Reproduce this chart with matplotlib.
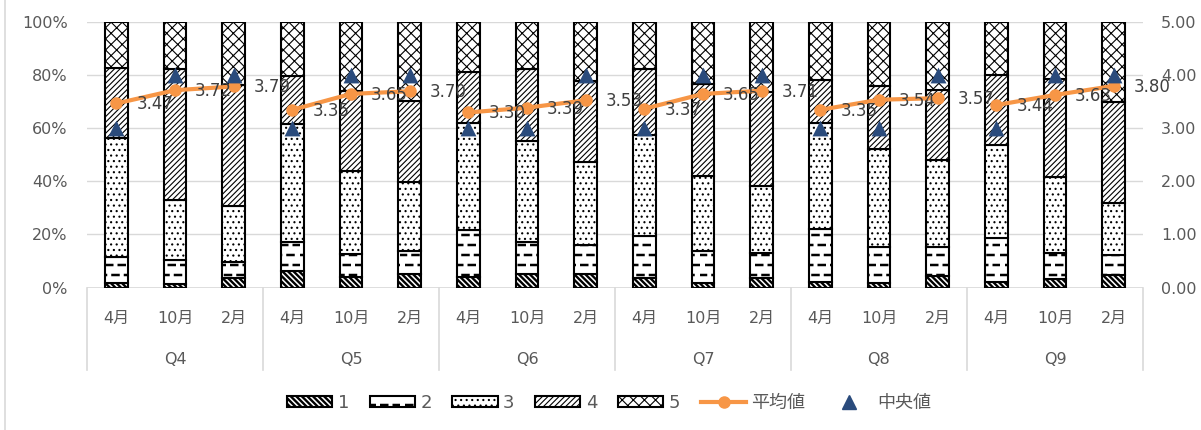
import numpy as np
import matplotlib
matplotlib.use("Agg")
import matplotlib.pyplot as plt
import matplotlib.hatch as mhatch
from matplotlib.path import Path
from matplotlib.lines import Line2D
import matplotlib.transforms as mtrans

plt.rcParams['font.family'] = ['DejaVu Sans', 'Noto Sans CJK JP']

# ---------------- data ----------------
groups = ["Q4", "Q5", "Q6", "Q7", "Q8", "Q9"]
months = ["4月", "10月", "2月"]
series_names = ["1", "2", "3", "4", "5"]
share1 = [1.8, 1.3, 3.7, 6.2, 4.1, 5.0, 3.8, 5.0, 5.0, 3.5, 1.6, 3.5, 2.0, 1.6, 4.5, 2.2, 3.1, 4.6]
share2 = [9.6, 9.1, 6.0, 11.1, 8.4, 8.9, 17.9, 12.3, 10.9, 16.0, 12.2, 9.6, 20.0, 13.8, 10.9, 16.6, 10.0, 7.7]
share3 = [44.9, 22.6, 21.1, 44.3, 31.5, 26.0, 40.3, 38.1, 31.5, 38.0, 28.4, 25.2, 40.0, 36.7, 32.7, 35.1, 28.7, 19.7]
share4 = [26.6, 49.5, 45.7, 18.0, 30.2, 30.6, 19.2, 26.9, 30.3, 24.8, 34.6, 35.4, 16.3, 23.9, 26.2, 26.3, 36.8, 38.1]
share5 = [17.1, 17.5, 23.5, 20.4, 25.8, 29.5, 18.8, 17.7, 22.3, 17.7, 23.2, 26.3, 21.7, 24.0, 25.7, 19.8, 21.4, 29.9]
mean_vals = [3.47, 3.72, 3.79, 3.35, 3.65, 3.70, 3.30, 3.39, 3.53, 3.37, 3.65, 3.71,
             3.35, 3.54, 3.57, 3.44, 3.63, 3.80]
median_vals = [3, 4, 4, 3, 4, 4, 3, 3, 4, 3, 4, 4, 3, 3, 4, 3, 4, 4]
pct_ticks = [0, 20, 40, 60, 80, 100]
right_ticks = [0, 1, 2, 3, 4, 5]

# ------------- custom dash hatch for series 2 -------------
class DashHatch(mhatch.HatchPatternBase):
    def __init__(self, hatch, density):
        n = hatch.count('-')
        self.rows = 10 if n else 0
        self.cols = 8
        self.num_vertices = self.rows * self.cols * 2

    def set_vertices_and_codes(self, vertices, codes):
        k = 0
        for r in range(self.rows):
            y = (r + 0.5) / self.rows
            off = 0.5 / self.cols if r % 2 else 0.0
            for c in range(self.cols):
                x0 = c / self.cols + off
                vertices[k] = (x0, y)
                vertices[k + 1] = (x0 + 0.06, y)
                codes[k] = Path.MOVETO
                codes[k + 1] = Path.LINETO
                k += 2

mhatch._hatch_types[0] = DashHatch

# ---------------- figure ----------------
W, H = 1201, 430
fig = plt.figure(figsize=(W / 100, H / 100), dpi=100)
x_left, x_right = 87, 1143
y_top, y_bot = 22.3, 287.5
ax = fig.add_axes([x_left / W, 1 - y_bot / H, (x_right - x_left) / W, (y_bot - y_top) / H])
ax2 = ax.twinx()

TEXT = '#595959'
GRID = '#D9D9D9'
n = len(share1)
x = np.arange(n)
shares = [share1, share2, share3, share4, share5]
hatches = ['\\' * 6, '-', '...', '//////', 'xxx']
hlw = [1.7, 1.8, 0.8, 0.8, 0.8]
bottom = np.zeros(n)
bar_handles = []
for name, s, h, lw in zip(series_names, shares, hatches, hlw):
    with plt.rc_context({'hatch.linewidth': lw}):
        bars = ax.bar(x, s, bottom=bottom, width=0.39, color='white', edgecolor='black',
                      linewidth=1.5, hatch=h, label=name, zorder=2)
        for b in bars:
            if hasattr(b, 'set_hatch_linewidth'):
                b.set_hatch_linewidth(lw)
    bar_handles.append(bars)
    bottom = bottom + np.array(s)

ax.set_xlim(-0.5, n - 0.5)
ax.set_ylim(0, 100)
ax.set_yticks(pct_ticks, labels=[f"{t}%" for t in pct_ticks])
ax.grid(axis='y', color=GRID, linewidth=1.0, zorder=0)
ax.set_axisbelow(True)
for sp in ax.spines.values():
    sp.set_visible(False)
for sp in ax2.spines.values():
    sp.set_visible(False)
ax.tick_params(axis='y', length=0, pad=14, labelsize=11.5, labelcolor=TEXT)
ax.set_xticks(x, labels=months * len(groups))
ax.tick_params(axis='x', length=0, pad=17, labelsize=11.5, labelcolor=TEXT)

# bottom axis line
ax.axhline(0, color=GRID, linewidth=1.2, zorder=1)

# group dividers and group labels
trans = mtrans.blended_transform_factory(ax.transData, ax.transAxes)
for gi in range(len(groups) + 1):
    xb = gi * 3 - 0.5
    ax.plot([xb, xb], [0, -0.31], transform=trans, color=GRID, linewidth=1.2, clip_on=False)
for gi, g in enumerate(groups):
    ax.text(gi * 3 + 1, -0.27, g, transform=trans, ha='center', va='center',
            fontsize=11.5, color=TEXT)

# secondary axis: mean line (per group) and median triangles
ax2.set_ylim(0, 5)
ax2.set_yticks(right_ticks, labels=[f"{t:.2f}" for t in right_ticks])
ax2.tick_params(axis='y', length=0, pad=13, labelsize=11.5, labelcolor=TEXT)
ORANGE = '#F79646'
BLUE = '#2A4B7C'
line_handle = None
for gi in range(len(groups)):
    idx = slice(gi * 3, gi * 3 + 3)
    ln, = ax2.plot(x[idx], mean_vals[idx], color=ORANGE, linewidth=3, marker='o',
                   markersize=8, zorder=4, label='平均値')
    line_handle = ln
med = ax2.scatter(x, median_vals, marker='^', s=130, color=BLUE, zorder=5, label='中央値',
                  linewidths=0)
for xi, v in zip(x, mean_vals):
    ax2.annotate(f"{v:.2f}", (xi, v), xytext=(20, -1), textcoords='offset pixels',
                 ha='left', va='center', fontsize=12, color='#404040', zorder=6)

# legend
handles = bar_handles + [line_handle,
                         Line2D([], [], linestyle='none', marker='^', markersize=10, color=BLUE)]
labels = series_names + ['平均値', '中央値']
leg = fig.legend(handles, labels, loc='center', bbox_to_anchor=(0.507, 1 - 403 / H), ncol=7,
                 frameon=False, fontsize=13, labelcolor=TEXT, handlelength=2.5, handleheight=0.6,
                 handletextpad=0.3, columnspacing=1.15)
for hnd, lw in zip(leg.legend_handles[:5], hlw):
    if hasattr(hnd, 'set_hatch_linewidth'):
        hnd.set_hatch_linewidth(lw)
    hnd.set_linewidth(1.5)

# chart border (left edge visible)
fig.add_artist(Line2D([5 / W, 5 / W], [0, 1], transform=fig.transFigure, color=GRID, linewidth=1.2))

fig.savefig('out.png', dpi=100)
